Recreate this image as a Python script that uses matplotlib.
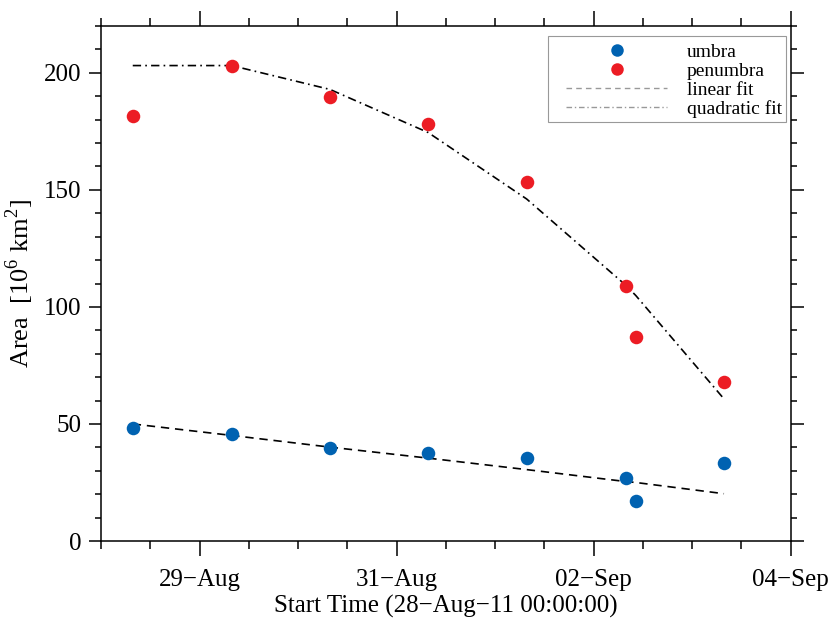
import matplotlib
matplotlib.use('Agg')
import matplotlib.pyplot as plt
import matplotlib.dates as mdates
from matplotlib.lines import Line2D
from matplotlib.patches import Rectangle
from matplotlib.ticker import FuncFormatter, MultipleLocator
import pandas as pd

plt.rcParams['font.family'] = ['Liberation Serif', 'DejaVu Serif']
plt.rcParams['mathtext.fontset'] = 'custom'
plt.rcParams['mathtext.rm'] = 'Liberation Serif'

# observation times
times = pd.to_datetime([
    '2011-08-28 07:44', '2011-08-29 07:49', '2011-08-30 07:47', '2011-08-31 07:41',
    '2011-09-01 07:41', '2011-09-02 07:48', '2011-09-02 10:15', '2011-09-03 07:45',
])
umbra = [48.4, 45.9, 39.6, 37.6, 35.6, 27.1, 17.1, 33.4]
penumbra = [181.4, 202.9, 189.7, 178.2, 153.3, 109.0, 87.1, 68.0]
linear_fit = [50.0, 45.1, 40.1, 35.4, 30.5, 25.4, 25.0, 20.2]
quad_fit = [203.1, 203.1, 192.9, 174.5, 146.1, 109.3, 104.9, 60.7]

major_days = pd.date_range('2011-08-29', '2011-09-04', freq='2D')
minor_days = pd.date_range('2011-08-28', '2011-09-04', freq='12h')

blue = '#0062B1'
red = '#EC1C24'

fig = plt.figure(figsize=(8.3, 6.23), dpi=100)
ax = fig.add_axes([101 / 830, 1 - 541 / 623, (790.7 - 101) / 830, (541 - 26) / 623])

ax.plot(times, linear_fit, color='k', lw=1.2, dashes=(5, 3.5))
ax.plot(times, quad_fit, color='k', lw=1.2, dashes=(5, 2.5, 1, 2.5))
ax.scatter(times, umbra, s=95, color=blue, zorder=3, linewidths=0)
ax.scatter(times, penumbra, s=95, color=red, zorder=3, linewidths=0)

ax.set_xlim(pd.Timestamp('2011-08-28'), pd.Timestamp('2011-09-04'))
ax.set_ylim(0, 220)

ax.set_xticks(major_days)
ax.set_xticks(minor_days, minor=True)
ax.xaxis.set_major_formatter(FuncFormatter(
    lambda v, p: mdates.num2date(v).strftime('%d') + '\u2212' + mdates.num2date(v).strftime('%b')))
ax.yaxis.set_major_locator(MultipleLocator(50))
ax.yaxis.set_minor_locator(MultipleLocator(10))

for s in ax.spines.values():
    s.set_linewidth(1.1)
ax.tick_params(which='both', direction='out', top=True, right=True, width=1.1, labelsize=18)
ax.tick_params(axis='x', which='major', length=11, pad=9)
ax.tick_params(axis='x', which='minor', length=6)
ax.tick_params(axis='y', which='major', length=9, pad=5)
ax.tick_params(axis='y', which='minor', length=4.5)

ax.set_xlabel('Start Time (28\u2212Aug\u221211 00:00:00)', fontsize=18, labelpad=3)
ax.set_ylabel(r'Area  [10$^6$ km$^2$]', fontsize=19, labelpad=6)

# legend box drawn by hand, legend content without frame
ax.add_patch(Rectangle((548 / 830, 1 - 122 / 623), (786 - 548) / 830, (122 - 36) / 623,
                       transform=fig.transFigure, facecolor='white',
                       edgecolor='#999999', lw=0.8, zorder=4, clip_on=False))
handles = [
    Line2D([], [], ls='none', marker='o', ms=9, color=blue, mec='none'),
    Line2D([], [], ls='none', marker='o', ms=9, color=red, mec='none'),
    Line2D([], [], color='#999999', lw=1, dashes=(4, 3)),
    Line2D([], [], color='#999999', lw=1, dashes=(4, 2, 1, 2)),
]
leg = ax.legend(handles, ['umbra', 'penumbra', 'linear fit', 'quadratic fit'],
                loc='upper left', bbox_to_anchor=(566 / 830, 1 - 43 / 623),
                bbox_transform=fig.transFigure, borderaxespad=0, borderpad=0,
                fontsize=14, handlelength=5.2, handletextpad=1.0,
                labelspacing=0.07, frameon=False)
leg.set_zorder(5)

fig.savefig('out.png', dpi=100)
